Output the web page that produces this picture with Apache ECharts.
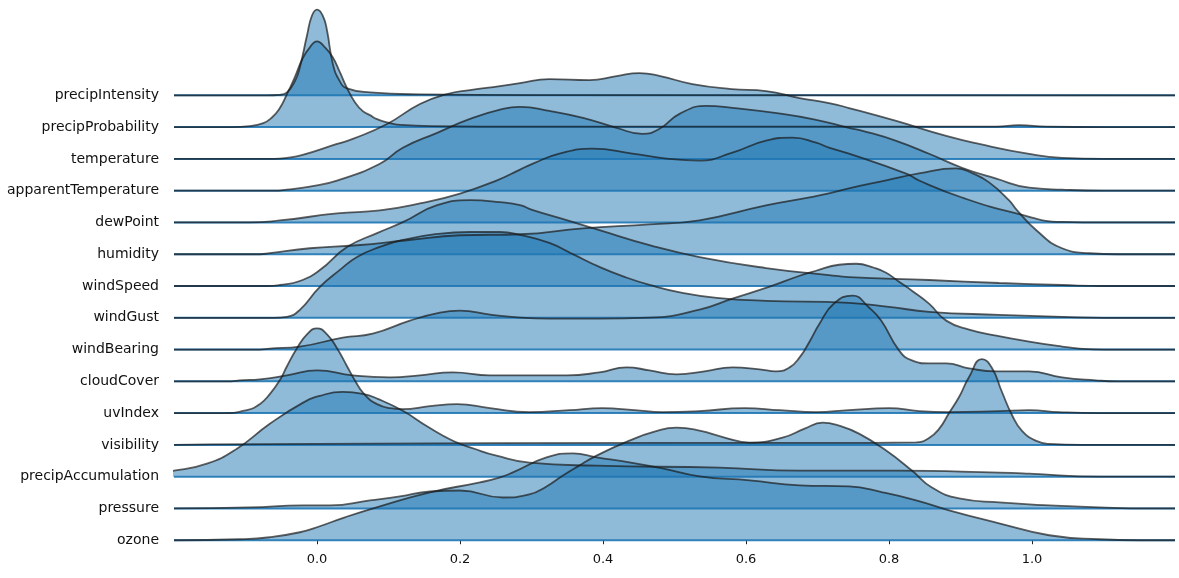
<!DOCTYPE html>
<html>
<head>
<meta charset="utf-8">
<script src="https://cdn.jsdelivr.net/npm/echarts@6/dist/echarts.min.js"></script>
<style>
html,body{margin:0;padding:0;background:#ffffff;}
#chart{width:1179px;height:578px;}
</style>
</head>
<body>
<div id="chart"></div>
<script>
// Row labels, top to bottom
const rowNames = ['precipIntensity','precipProbability','temperature','apparentTemperature','dewPoint',
  'humidity','windSpeed','windGust','windBearing','cloudCover','uvIndex','visibility',
  'precipAccumulation','pressure','ozone'];
const xTicks = [0.0, 0.2, 0.4, 0.6, 0.8, 1.0];

// Each ridge: [x, relative density height] (peak ~86)
const precipIntensity = [[-0.2,0],[-0.07,0],[-0.052,0.5],[-0.042,3],[-0.031,14],[-0.024,28],[-0.014,60],[-0.007,80],[0.0,86],[0.008,80],[0.014,65],[0.022,32],[0.032,14],[0.042,7],[0.074,3],[0.144,1],[0.3,0.3],[1.2,0]];
const precipProbability = [[-0.2,0],[-0.12,0],[-0.094,1],[-0.075,4],[-0.064,9],[-0.053,18],[-0.042,33],[-0.031,50],[-0.020,69],[-0.010,80],[0.0,86],[0.011,80],[0.022,70],[0.032,55],[0.042,39],[0.053,25],[0.064,16],[0.074,12],[0.084,8],[0.102,4],[0.112,2.5],[0.16,1],[0.3,0.5],[0.7,0.5],[0.95,0.5],[0.982,2],[1.02,0.5],[1.1,0],[1.2,0]];
const temperature = [[-0.2,0],[-0.06,0],[-0.042,1],[-0.02,4],[0.028,15],[0.05,20],[0.098,35],[0.144,55],[0.182,65],[0.214,69],[0.256,73],[0.284,76],[0.325,80],[0.381,79],[0.419,83],[0.451,86],[0.48,83],[0.525,75],[0.58,70],[0.628,68],[0.675,61],[0.716,56],[0.744,51],[0.81,38],[0.88,23],[0.926,15],[0.996,5],[1.042,1],[1.1,0],[1.2,0]];
const apparentTemperature = [[-0.2,0],[-0.06,0],[-0.042,1],[-0.01,4],[0.028,10],[0.088,27],[0.12,43],[0.168,58],[0.214,72],[0.26,82],[0.284,84],[0.325,80],[0.372,73],[0.419,63],[0.455,57],[0.479,62],[0.507,77],[0.545,85],[0.581,83],[0.651,77],[0.698,71],[0.744,63],[0.763,60],[0.81,50],[0.856,37],[0.902,23],[0.95,12],[0.996,3],[1.042,1],[1.1,0],[1.2,0]];
const dewPoint = [[-0.2,0],[-0.094,0],[-0.052,2],[0.028,9],[0.088,12],[0.144,19],[0.2,29],[0.251,42],[0.284,53],[0.302,59],[0.339,69],[0.385,74],[0.441,69],[0.489,64],[0.535,62],[0.581,70],[0.628,82],[0.665,85],[0.698,80],[0.716,75],[0.744,69],[0.824,49],[0.842,42],[0.902,25],[0.978,9],[1.042,0.5],[1.1,0],[1.2,0]];
const humidity = [[-0.2,0],[-0.08,0],[-0.066,1],[-0.01,6],[0.056,9],[0.126,14],[0.2,19],[0.284,20],[0.372,26],[0.465,30],[0.535,34],[0.628,49],[0.689,57],[0.716,61],[0.744,66],[0.796,74],[0.842,81],[0.894,86],[0.917,81],[0.94,72],[0.968,54],[0.978,45],[1.006,24],[1.042,6],[1.08,1],[1.12,0],[1.2,0]];
const windSpeed = [[-0.2,0],[-0.07,0],[-0.052,1],[-0.024,5],[0.004,16],[0.042,39],[0.084,53],[0.12,64],[0.168,81],[0.214,86],[0.256,84],[0.284,81],[0.302,76],[0.349,66],[0.395,56],[0.465,41],[0.535,29],[0.628,18],[0.716,11],[0.744,9],[0.856,6],[0.954,3],[1.042,1],[1.1,0],[1.2,0]];
const windGust = [[-0.2,0],[-0.06,0],[-0.042,1],[-0.024,8],[0.004,31],[0.032,48],[0.056,61],[0.088,71],[0.12,78],[0.168,84],[0.214,86],[0.256,86],[0.284,83],[0.325,75],[0.36,63],[0.395,51],[0.43,41],[0.465,33],[0.511,25],[0.559,20],[0.628,17],[0.744,15],[0.8,11],[0.856,6],[0.954,3],[1.042,1],[1.1,0],[1.2,0]];
const windBearing = [[-0.2,0],[-0.08,0],[-0.066,1],[-0.024,3],[0.036,12],[0.078,16],[0.13,29],[0.172,37],[0.2,39],[0.242,35],[0.284,32],[0.325,31],[0.395,31],[0.465,32],[0.535,40],[0.581,51],[0.633,63],[0.675,74],[0.698,79],[0.73,85],[0.754,86],[0.779,82],[0.796,77],[0.814,68],[0.832,59],[0.856,46],[0.88,29],[0.912,20],[0.95,14],[0.996,8],[1.042,3],[1.066,1],[1.1,0],[1.2,0]];
const cloudCover = [[-0.2,0],[-0.12,0],[-0.108,1],[-0.08,2],[-0.042,6],[0.0,11],[0.05,6],[0.102,4],[0.144,6],[0.19,9],[0.242,6],[0.284,6],[0.349,6],[0.395,9],[0.433,14],[0.465,11],[0.503,7],[0.542,10],[0.581,14],[0.619,12],[0.642,10],[0.661,14],[0.675,24],[0.689,40],[0.703,58],[0.723,78],[0.749,86],[0.772,74],[0.789,61],[0.814,31],[0.832,21],[0.856,18],[0.88,18],[0.912,13],[0.95,10],[0.996,10],[1.042,4],[1.089,1],[1.12,0],[1.2,0]];
const uvIndex = [[-0.2,0],[-0.13,0],[-0.098,3],[-0.08,9],[-0.066,19],[-0.052,33],[-0.042,47],[-0.028,65],[-0.014,79],[0.0,85],[0.014,79],[0.028,65],[0.042,47],[0.052,34],[0.066,19],[0.084,9],[0.102,5],[0.12,4],[0.158,7],[0.196,9],[0.242,5],[0.297,1],[0.353,3],[0.399,5],[0.444,3],[0.483,1],[0.535,2],[0.598,5],[0.647,3],[0.698,1],[0.744,3],[0.8,5],[0.842,2],[0.884,1],[0.954,2],[0.996,3],[1.038,1],[1.094,0],[1.2,0]];
const visibility = [[-0.2,0],[-0.15,0.5],[0.0,1],[0.5,2],[0.716,2],[0.838,2.5],[0.856,7],[0.87,16],[0.884,32],[0.898,48],[0.912,68],[0.93,86],[0.944,77],[0.958,53],[0.972,30],[0.986,14],[1.006,4],[1.024,1],[1.07,0],[1.2,0]];
const precipAccumulation = [[-0.25,2],[-0.2,6],[-0.154,13],[-0.112,28],[-0.066,53],[-0.02,74],[0.004,81],[0.036,85],[0.064,83],[0.085,78],[0.12,66],[0.155,50],[0.19,36],[0.22,28],[0.251,21],[0.297,14],[0.391,11],[0.563,9],[0.675,6],[0.814,6],[0.954,4],[0.996,3],[1.094,0],[1.2,0]];
const pressure = [[-0.2,0],[-0.094,1],[-0.02,3],[0.018,3],[0.074,8],[0.116,12],[0.158,17],[0.2,18],[0.26,11],[0.297,14],[0.321,22],[0.344,33],[0.367,43],[0.391,53],[0.437,68],[0.472,77],[0.503,81],[0.535,78],[0.57,71],[0.605,66],[0.651,71],[0.682,80],[0.707,86],[0.73,83],[0.758,75],[0.796,58],[0.832,38],[0.86,21],[0.898,10],[0.954,6],[1.024,3],[1.094,1],[1.163,0],[1.2,0]];
const ozone = [[-0.2,0],[-0.108,1],[-0.066,3],[-0.024,8],[0.004,14],[0.039,23],[0.088,34],[0.158,48],[0.228,58],[0.256,63],[0.274,68],[0.321,83],[0.358,87],[0.391,83],[0.437,78],[0.483,72],[0.535,64],[0.605,60],[0.675,55],[0.744,54],[0.791,48],[0.838,40],[0.884,30],[0.954,17],[1.024,5],[1.094,1],[1.15,0],[1.2,0]];

const ridges = [precipIntensity, precipProbability, temperature, apparentTemperature, dewPoint,
  humidity, windSpeed, windGust, windBearing, cloudCover, uvIndex, visibility,
  precipAccumulation, pressure, ozone];

const N = rowNames.length;
const SCALE = 2.7 / 86;   // ridge height: peak spans ~2.7 row spacings
const X_MIN = -0.2, X_MAX = 1.2;

const series = [];
rowNames.forEach((name, i) => {
  const base = N - 1 - i;
  series.push({
    type: 'line',
    name: name + ' baseline',
    data: [[X_MIN, base], [X_MAX, base]],
    symbol: 'none',
    silent: true,
    lineStyle: { color: 'rgba(31,119,180,0.9)', width: 2 },
    animation: false
  });
  series.push({
    type: 'line',
    name: name,
    data: ridges[i].map(p => [p[0], base + p[1] * SCALE]),
    symbol: 'none',
    smooth: 0.5,
    lineStyle: { color: 'rgba(25,25,25,0.7)', width: 1.8 },
    areaStyle: { color: 'rgba(31,119,180,0.5)', origin: base, opacity: 1 },
    animation: false
  });
});

const yVals = rowNames.map((_, i) => i);

const chart = echarts.init(document.getElementById('chart'), null, { renderer: 'canvas' });
chart.setOption({
  backgroundColor: '#ffffff',
  animation: false,
  grid: { left: 174, right: 4, top: 0, bottom: 33, containLabel: false },
  xAxis: {
    type: 'value',
    min: X_MIN, max: X_MAX,
    axisLine: { show: false },
    splitLine: { show: false },
    axisTick: { show: true, length: 4, customValues: xTicks, lineStyle: { color: '#222', width: 1 } },
    axisLabel: {
      customValues: xTicks,
      formatter: v => Number(v).toFixed(1),
      color: '#111', fontSize: 13, fontFamily: 'DejaVu Sans', margin: 8
    }
  },
  yAxis: {
    type: 'value',
    min: -0.15, max: 17,
    axisLine: { show: false },
    axisTick: { show: false },
    splitLine: { show: false },
    axisLabel: {
      customValues: yVals,
      formatter: v => rowNames[N - 1 - Math.round(v)],
      color: '#111', fontSize: 14, fontFamily: 'DejaVu Sans', margin: 15
    }
  },
  series: series
});
</script>
</body>
</html>
